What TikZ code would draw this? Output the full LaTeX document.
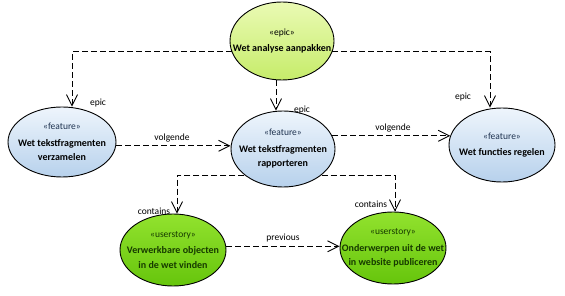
\documentclass[tikz,border=0pt]{standalone}
\usepackage{fontspec}
\setmainfont{Carlito}
\usetikzlibrary{shapes.geometric,arrows.meta,calc}
\definecolor{feattop}{HTML}{EEF5FC}
\definecolor{featbot}{HTML}{B7D1EC}
\definecolor{epictop}{HTML}{EAFAB4}
\definecolor{epicbot}{HTML}{C6EC6A}
\definecolor{ustop}{HTML}{92E22E}
\definecolor{usbot}{HTML}{66C50C}
\definecolor{ustext}{HTML}{163A00}
\definecolor{featstereo}{HTML}{1F3350}
\begin{document}
\begin{tikzpicture}[x=1pt,y=-1pt,
  uc/.style={ellipse, draw=black, line width=0.9pt, inner xsep=-20pt, inner ysep=-10pt, align=center,
    font=\fontsize{10}{14.5}\selectfont},
  epicuc/.style={uc, minimum width=104pt, minimum height=78pt, top color=epictop, bottom color=epicbot},
  featuc/.style={uc, top color=feattop, bottom color=featbot},
  usuc/.style={uc, minimum width=106pt, minimum height=72pt, top color=ustop, bottom color=usbot, text=ustext},
  conn/.style={dash pattern=on 6pt off 3pt, line width=0.9pt, -{Straight Barb[length=11pt,width=11pt]}},
  lbl/.style={font=\fontsize{9.5}{11}\selectfont, inner sep=1pt, text=black}]
\useasboundingbox (0,0) rectangle (565,296);

\node[epicuc] (epic) at (282,41)
  {{\fontsize{9.5}{11}\selectfont «epic»}\\[2pt]\textbf{Wet analyse aanpakken}};
\node[featuc, minimum width=108pt, minimum height=70pt] (lf) at (62,142)
  {{\fontsize{9.5}{11}\selectfont\color{featstereo}«feature»}\\[2pt]\textbf{Wet tekstfragmenten}\\\textbf{verzamelen}};
\node[featuc, minimum width=104pt, minimum height=76pt] (mid) at (283,149)
  {{\fontsize{9.5}{11}\selectfont\color{featstereo}«feature»}\\[2pt]\textbf{Wet tekstfragmenten}\\\textbf{rapporteren}};
\node[featuc, minimum width=106pt, minimum height=74pt] (rf) at (502,145)
  {{\fontsize{9.5}{11}\selectfont\color{featstereo}«feature»}\\[2pt]\textbf{Wet functies regelen}};
\node[usuc] (bl) at (173,250)
  {{\fontsize{9.5}{11}\selectfont «userstory»}\\[2pt]\textbf{Verwerkbare objecten}\\\textbf{in de wet vinden}};
\node[usuc] (br) at (393,248)
  {{\fontsize{9.5}{11}\selectfont «userstory»}\\[2pt]\textbf{Onderwerpen uit de wet}\\\textbf{in website publiceren}};

\draw[conn] (epic.192) -| ($(lf.north)+(10,0)$);
\draw[conn] (epic.-12) -| ($(rf.north)+(-12,0)$);
\draw[conn] ($(epic.south)+(-6,0)$) -- ($(mid.north)+(-7,0)$);
\draw[conn] (lf.-4) -- (lf.-4 -| mid.west);
\draw[conn] (mid.15) -- (mid.15 -| rf.170);
\draw[conn] (mid.214) -| ($(bl.north)+(4,0)$);
\draw[conn] (mid.-34) -| ($(br.north)+(2,0)$);
\draw[conn] (bl.4) -- (bl.4 -| br.west);

\node[lbl] (l1) at (98,103) {epic};
\node[lbl] (l2) at (302,110) {epic};
\node[lbl] (l3) at (463,97) {epic};
\node[lbl] (l4) at (172,138) {volgende};
\node[lbl] (l5) at (393,128) {volgende};
\node[lbl] (l6) at (154,211) {contains};
\node[lbl] (l7) at (371,204) {contains};
\node[lbl] (l8) at (283,238) {previous};
\end{tikzpicture}
\end{document}
